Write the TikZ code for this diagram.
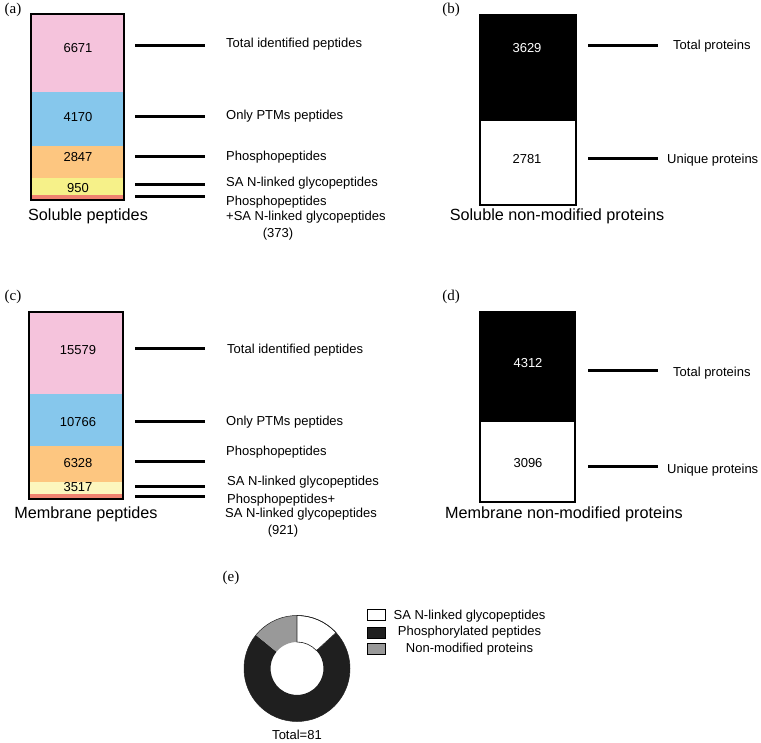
\documentclass[tikz,border=0pt]{standalone}
\usepackage{fontspec}
\setmainfont{Liberation Sans}
\newfontfamily\serifpanel{Liberation Serif}
\definecolor{cpink}{HTML}{F5C3DC}
\definecolor{cblue}{HTML}{86C7EC}
\definecolor{corange}{HTML}{FDC680}
\definecolor{cyellow}{HTML}{F6F189}
\definecolor{cpaley}{HTML}{FCF6BE}
\definecolor{cred}{HTML}{EF8270}
\definecolor{cdark}{HTML}{1F1F1F}
\definecolor{cgray}{HTML}{999999}
\begin{document}
\begin{tikzpicture}[x=1pt,y=-1pt,
  lbl/.style={anchor=west,font=\fontsize{13}{15}\selectfont,inner sep=0pt},
  num/.style={font=\fontsize{13}{15}\selectfont,inner sep=0pt},
  ttl/.style={font=\fontsize{16.2}{18}\selectfont,inner sep=0pt},
  plab/.style={font=\serifpanel\fontsize{15}{17}\selectfont,inner sep=0pt},
  tick/.style={line width=3pt},
  frame/.style={draw=black,line width=2pt},
  key/.style={draw=black,line width=1pt,minimum width=18pt,minimum height=11pt,inner sep=0pt}]
\useasboundingbox (0,0) rectangle (761,743);
% ---------------- (a)
\node[plab] (pa) at (13,10) {(a)};
\fill[cpink] (31,14) rectangle (124,92);
\fill[cblue] (31,92) rectangle (124,146);
\fill[corange] (31,146) rectangle (124,178);
\fill[cyellow] (31,178) rectangle (124,195);
\fill[cred] (31,195) rectangle (124,200);
\draw[frame] (31,14) rectangle (124,200);
\node[num] (a1) at (78,48) {6671};
\node[num] (a2) at (78,117) {4170};
\node[num] (a3) at (78,157) {2847};
\node[num] (a4) at (78,188) {950};
\node[ttl] (at) at (88,216) {Soluble peptides};
\coordinate (a1s) at (135,46); \coordinate (a1e) at (205,46);
\coordinate (a2s) at (135,117); \coordinate (a2e) at (205,117);
\coordinate (a3s) at (135,157); \coordinate (a3e) at (205,157);
\coordinate (a4s) at (135,185); \coordinate (a4e) at (205,185);
\coordinate (a5s) at (135,197); \coordinate (a5e) at (205,197);
\draw[tick] (a1s) -- (a1e); \draw[tick] (a2s) -- (a2e); \draw[tick] (a3s) -- (a3e);
\draw[tick] (a4s) -- (a4e); \draw[tick] (a5s) -- (a5e);
\node[lbl] (al1) at (226,44) {Total identified peptides};
\node[lbl] (al2) at (226,116) {Only PTMs peptides};
\node[lbl] (al3) at (226,157) {Phosphopeptides};
\node[lbl] (al4) at (226,183) {SA N-linked glycopeptides};
\node[lbl] (al5) at (226,202) {Phosphopeptides};
\node[lbl] (al6) at (226,217) {+SA N-linked glycopeptides};
\node[num] (al7) at (278,234) {(373)};
% ---------------- (b)
\node[plab] (pb) at (451,10) {(b)};
\fill[black] (480,15) rectangle (576,121);
\fill[white] (480,121) rectangle (576,205);
\draw[frame] (480,15) rectangle (576,205);
\node[num,text=white] (b1) at (527,48) {3629};
\node[num] (b2) at (527,159) {2781};
\node[ttl] (bt) at (557,216) {Soluble non-modified proteins};
\coordinate (b1s) at (588,46); \coordinate (b1e) at (658,46);
\coordinate (b2s) at (588,159); \coordinate (b2e) at (658,159);
\draw[tick] (b1s) -- (b1e); \draw[tick] (b2s) -- (b2e);
\node[lbl] (bl1) at (673,46) {Total proteins};
\node[lbl] (bl2) at (667,160) {Unique proteins};
% ---------------- (c)
\node[plab] (pc) at (13,297) {(c)};
\fill[cpink] (29,312) rectangle (123,394);
\fill[cblue] (29,394) rectangle (123,446);
\fill[corange] (29,446) rectangle (123,482);
\fill[cpaley] (29,482) rectangle (123,494);
\fill[cred] (29,494) rectangle (123,499);
\draw[frame] (29,312) rectangle (123,499);
\node[num] (c1) at (78,350) {15579};
\node[num] (c2) at (78,422) {10766};
\node[num] (c3) at (78,463) {6328};
\node[num] (c4) at (78,487) {3517};
\node[ttl] (ct) at (86,514) {Membrane peptides};
\coordinate (c1s) at (135,349); \coordinate (c1e) at (205,349);
\coordinate (c2s) at (135,422); \coordinate (c2e) at (205,422);
\coordinate (c3s) at (135,461); \coordinate (c3e) at (205,461);
\coordinate (c4s) at (135,486); \coordinate (c4e) at (205,486);
\coordinate (c5s) at (135,496); \coordinate (c5e) at (205,496);
\draw[tick] (c1s) -- (c1e); \draw[tick] (c2s) -- (c2e); \draw[tick] (c3s) -- (c3e);
\draw[tick] (c4s) -- (c4e); \draw[tick] (c5s) -- (c5e);
\node[lbl] (cl1) at (227,350) {Total identified peptides};
\node[lbl] (cl2) at (226,422) {Only PTMs peptides};
\node[lbl] (cl3) at (226,452) {Phosphopeptides};
\node[lbl] (cl4) at (227,482) {SA N-linked glycopeptides};
\node[lbl] (cl5) at (227,500) {Phosphopeptides+};
\node[lbl] (cl6) at (225,514) {SA N-linked glycopeptides};
\node[num] (cl7) at (283,531) {(921)};
% ---------------- (d)
\node[plab] (pd) at (451,297) {(d)};
\fill[black] (480,312) rectangle (575,422);
\fill[white] (480,422) rectangle (575,502);
\draw[frame] (480,312) rectangle (575,502);
\node[num,text=white] (d1) at (528,363) {4312};
\node[num] (d2) at (528,463) {3096};
\node[ttl] (dt) at (564,514) {Membrane non-modified proteins};
\coordinate (d1s) at (588,371); \coordinate (d1e) at (658,371);
\coordinate (d2s) at (588,466); \coordinate (d2e) at (658,466);
\draw[tick] (d1s) -- (d1e); \draw[tick] (d2s) -- (d2e);
\node[lbl] (dl1) at (673,373) {Total proteins};
\node[lbl] (dl2) at (667,470) {Unique proteins};
% ---------------- (e)
\node[plab] (pe) at (231,578) {(e)};
\def\Ro{53}\def\Ri{26.5}
\begin{scope}[y=1pt]
\coordinate (cc) at (297,-668.5);
\fill[cdark] ([shift={(42.6:\Ro)}]cc) arc[start angle=42.6,end angle=-219.2,radius=\Ro]
  -- ([shift={(-219.2:\Ri)}]cc) arc[start angle=-219.2,end angle=42.6,radius=\Ri] -- cycle;
\fill[cgray] ([shift={(90:\Ro)}]cc) arc[start angle=90,end angle=140.8,radius=\Ro]
  -- ([shift={(140.8:\Ri)}]cc) arc[start angle=140.8,end angle=90,radius=\Ri] -- cycle;
\draw[cdark,line width=0.6pt,fill=white] ([shift={(90:\Ro)}]cc) arc[start angle=90,end angle=42.6,radius=\Ro]
  -- ([shift={(42.6:\Ri)}]cc) arc[start angle=42.6,end angle=90,radius=\Ri] -- cycle;
\draw[cdark,line width=0.5pt] (cc) circle[radius=\Ro];
\end{scope}
\node[num] (et) at (297,735) {Total=81};
\node[key,fill=white] (k1) at (376.5,615) {};
\node[key,fill=cdark] (k2) at (376.5,632.5) {};
\node[key,fill=cgray] (k3) at (376.5,649) {};
\node[num] (kl1) at (469.5,616) {SA N-linked glycopeptides};
\node[num] (kl2) at (469.5,632) {Phosphorylated peptides};
\node[num] (kl3) at (469.5,649) {Non-modified proteins};
\end{tikzpicture}
\end{document}
